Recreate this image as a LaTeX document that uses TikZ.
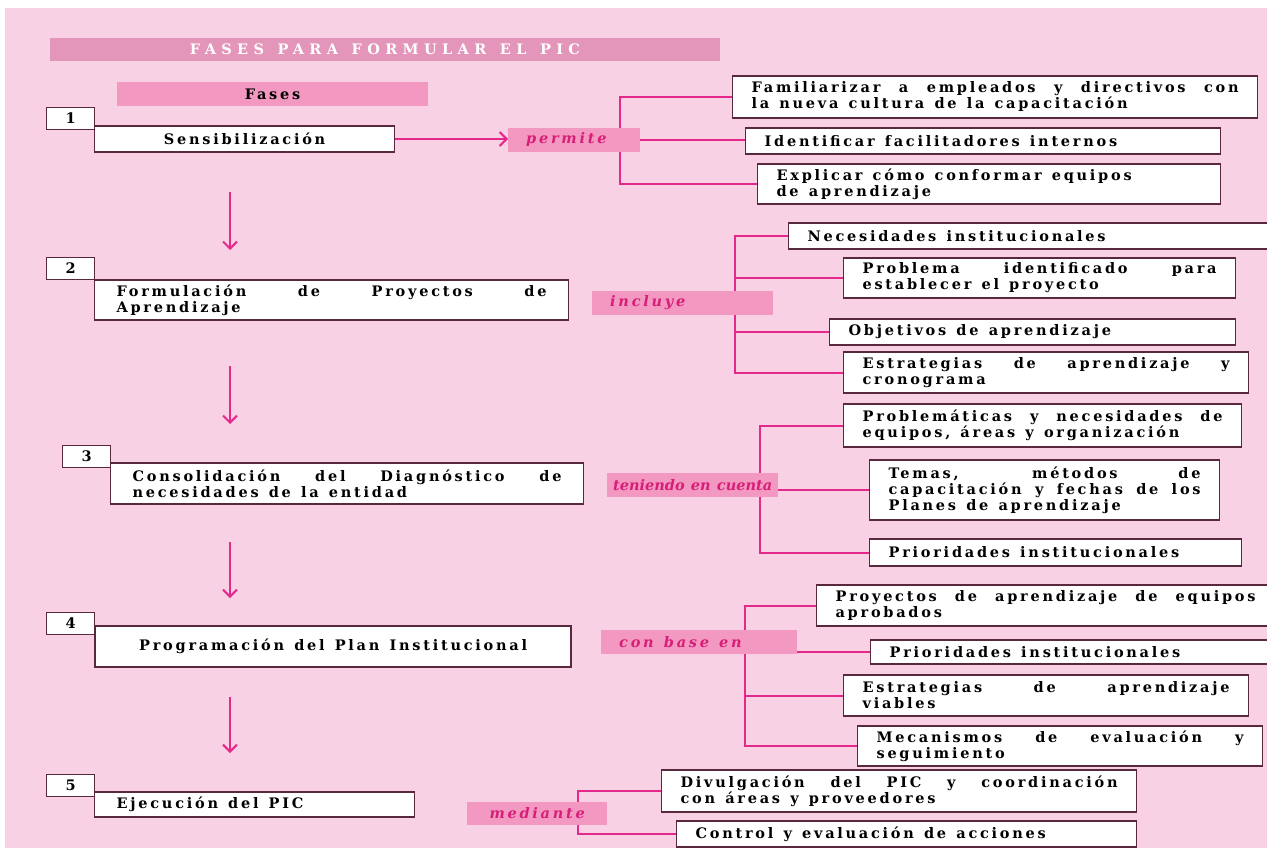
\documentclass[tikz,border=0pt]{standalone}
\usepackage{fontspec}
\setmainfont{DejaVu Serif}[LetterSpace=19, WordSpace=1.3]
\usepackage{tikz}
\usetikzlibrary{arrows.meta}
\definecolor{PICfondo}{RGB}{249,209,228}
\definecolor{PICtitulo}{RGB}{228,150,186}
\definecolor{PICrosa}{RGB}{242,152,193}
\definecolor{PICmagenta}{RGB}{228,40,140}
\definecolor{PICtexto}{RGB}{215,30,120}
\definecolor{PICborde}{RGB}{90,40,60}
\pgfdeclarelayer{fondo}
\pgfdeclarelayer{lineas}
\pgfsetlayers{fondo,lineas,main}
\newcommand{\letra}{\fontsize{14.5}{16}\selectfont\bfseries
  \hyphenpenalty=10000\exhyphenpenalty=10000\tolerance=10000}

\begin{document}
\begin{tikzpicture}[x=1pt, y=-1pt,
    titulo/.style={fill=PICtitulo, minimum width=670pt, minimum height=23pt,
                   text=white, font=\letra\addfontfeature{LetterSpace=37}},
    cabecera/.style={fill=PICrosa, minimum width=311pt, minimum height=24pt,
                     font=\letra},
    numbox/.style={draw=PICborde, line width=1.2pt, fill=white, anchor=south west,
                   minimum width=48pt, minimum height=22pt, font=\letra},
    fasebox/.style={draw=PICborde, line width=1.2pt, fill=white, anchor=west,
                    inner xsep=22pt, inner ysep=3pt, minimum height=26pt,
                    text width=#1, font=\letra, align=justify},
    centrobox/.style={draw=PICborde, line width=1.2pt, fill=white, anchor=west,
                      minimum width=#1, minimum height=26pt, font=\letra},
    itembox/.style={draw=PICborde, line width=1.2pt, fill=white, anchor=west,
                    inner xsep=19pt, inner ysep=3pt, minimum height=26pt,
                    text width=#1, font=\letra, align=justify},
    enlace/.style={fill=PICrosa, anchor=west, inner xsep=18pt, minimum height=24pt,
                   text width=#1, text=PICtexto, font=\letra\itshape, align=justify},
    arr/.style={-{Straight Barb[length=7pt,width=14pt]}, line width=2pt, PICmagenta},
    rama/.style={line width=2pt, PICmagenta}
  ]
  \useasboundingbox (0,0) rectangle (1267,848);
  \clip (0,0) rectangle (1267,848);
  \begin{pgfonlayer}{fondo}
    \fill[white] (0,0) rectangle (1267,848);
    \fill[PICfondo] (5,8) rectangle (1267,848);
  \end{pgfonlayer}

  % Titulo
  \node[titulo] (tit) at (385,49.5) {FASES PARA FORMULAR EL PIC};
  \node[cabecera] (fases) at (272.5,94) {Fases};

  % Fases
  \node[numbox] (n1) at (46,130) {1};
  \node[centrobox=300pt] (sens) at (94,139) {Sensibilización};
  \node[numbox] (n2) at (46,280) {2};
  \node[fasebox=430pt, minimum height=40pt] (form) at (94,300)
        {Formulación de Proyectos de\linebreak Aprendizaje};
  \node[numbox] (n3) at (62,468) {3};
  \node[fasebox=429pt, minimum height=41pt] (cons) at (110,483.5)
        {Consolidación del Diagnóstico de\linebreak necesidades de la entidad};
  \node[numbox] (n4) at (46,635) {4};
  \node[centrobox=476pt, minimum height=41pt, line width=2.2pt]
        (prog) at (94,646.5) {Programación del Plan Institucional};
  \node[numbox] (n5) at (46,797) {5};
  \node[fasebox=276pt, minimum height=25pt] (ejec) at (94,804.5)
        {Ejecución del PIC};

  \foreach \i/\ya/\yb in {1/192/250, 2/366/424, 3/542/598, 4/697/753} {
    \coordinate (b\i) at (230,\ya);
    \coordinate (e\i) at (230,\yb);
    \draw[arr] (b\i) -- (e\i);
  }

  % Enlaces
  \node[enlace=96pt] (permite) at (508,140) {permite};
  \node[enlace=145pt] (incluye) at (592,302.5) {incluye};
  \node[enlace=159pt, inner xsep=6pt] (teniendo) at (607,485)
        {\addfontfeature{LetterSpace=0}teniendo en cuenta};
  \node[enlace=160pt] (conbase) at (601,642) {con base en};
  \node[fill=PICrosa, anchor=west, minimum width=140pt, minimum height=23pt,
        text=PICtexto, font=\letra\itshape] (mediante) at (467,813.5) {mediante};

  \draw[arr] (sens.east) -- (sens.east -| permite.west);

  % Sensibilizacion
  \node[itembox=487pt, minimum height=42pt] (fam) at (732,97)
        {Familiarizar a empleados y directivos con\linebreak la nueva cultura de la capacitación};
  \node[itembox=437pt] (ide) at (745,141) {Identificar facilitadores internos};
  \node[itembox=425pt, minimum height=40pt] (exp) at (757,184)
        {Explicar cómo conformar equipos\newline de aprendizaje};

  % Formulacion
  \node[itembox=446pt] (nec) at (788,236) {Necesidades institucionales};
  \node[itembox=354pt, minimum height=40pt] (pro) at (843,278)
        {Problema identificado para\linebreak establecer el proyecto};
  \node[itembox=368pt] (obj) at (829,332) {Objetivos de aprendizaje};
  \node[itembox=367pt, minimum height=41pt] (est) at (843,372.5)
        {Estrategias de aprendizaje y\linebreak cronograma};

  % Consolidacion
  \node[itembox=360pt, minimum height=43pt] (prob) at (843,425.5)
        {Problemáticas y necesidades de\linebreak equipos, áreas y organización};
  \node[itembox=312pt, minimum height=60pt] (tem) at (869,490)
        {Temas, métodos de\linebreak capacitación y fechas de los\linebreak Planes de aprendizaje};
  \node[itembox=334pt, minimum height=27pt] (pri) at (869,552.5) {Prioridades institucionales};

  % Programacion
  \node[itembox=420pt, minimum height=41pt] (proy) at (816,605.5)
        {Proyectos de aprendizaje de equipos\linebreak aprobados};
  \node[itembox=364pt, minimum height=24pt] (pri2) at (870,652) {Prioridades institucionales};
  \node[itembox=367pt, minimum height=41pt] (estv) at (843,695.5)
        {Estrategias de aprendizaje\linebreak viables};
  \node[itembox=367pt, minimum height=40pt] (mec) at (857,746)
        {Mecanismos de evaluación y\linebreak seguimiento};

  % Ejecucion
  \node[itembox=437pt, minimum height=42pt] (div) at (661,791)
        {Divulgación del PIC y coordinación\linebreak con áreas y proveedores};
  \node[itembox=422pt] (con) at (676,834) {Control y evaluación de acciones};

  \coordinate (s1) at (620,140);
  \coordinate (s2) at (735,302.5);
  \coordinate (s3) at (760,485);
  \coordinate (s4) at (745,642);
  \coordinate (s5) at (578,813.5);

  \begin{pgfonlayer}{lineas}
    \draw[rama] (fam.west) -| (s1) |- (exp.west);
    \draw[rama] (permite.east) -- (permite.east -| ide.west);
    \draw[rama] (nec.west) -| (s2) |- (est.west);
    \draw[rama] (pro.west) -- (pro.west -| s2);
    \draw[rama] (obj.west) -- (obj.west -| s2);
    \draw[rama] (prob.west) -| (s3) |- (pri.west);
    \draw[rama] (tem.west) -- (tem.west -| teniendo.east);
    \draw[rama] (proy.west) -| (s4) |- (mec.west);
    \draw[rama] (pri2.west) -- (pri2.west -| conbase.east);
    \draw[rama] (estv.west) -- (estv.west -| s4);
    \draw[rama] (div.west) -| (s5) |- (con.west);
  \end{pgfonlayer}
\end{tikzpicture}
\end{document}
